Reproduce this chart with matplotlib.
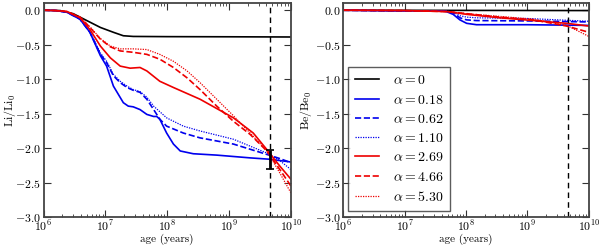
import numpy as np
import matplotlib
matplotlib.use("Agg")
import matplotlib.pyplot as plt

plt.rcParams['font.family'] = 'serif'
plt.rcParams['font.serif'] = ['cmr10', 'DejaVu Serif']
plt.rcParams['mathtext.fontset'] = 'cm'
plt.rcParams['axes.formatter.use_mathtext'] = True
plt.rcParams['axes.unicode_minus'] = True

# ---------------- data (log10 age, abundance) ----------------
labels = [r'$\alpha = 0$', r'$\alpha = 0.18$', r'$\alpha = 0.62$', r'$\alpha = 1.10$',
          r'$\alpha = 2.69$', r'$\alpha = 4.66$', r'$\alpha = 5.30$']

li_a0_x = [6.0, 6.27, 6.48, 6.70, 6.92, 7.13, 7.29, 7.45, 8.0, 9.0, 10.0]
li_a0_y = [0.0, -0.005, -0.05, -0.15, -0.25, -0.32, -0.37, -0.38, -0.383, -0.385, -0.388]

li_a018_x = [6.0, 6.2, 6.38, 6.59, 6.75, 6.92, 7.02, 7.13, 7.29, 7.37, 7.45, 7.56, 7.67, 7.78,
             7.83, 7.88, 7.99, 8.10, 8.21, 8.42, 8.80, 9.34, 9.66, 10.0]
li_a018_y = [0.0, -0.005, -0.03, -0.13, -0.32, -0.66, -0.81, -1.10, -1.34, -1.39, -1.40, -1.44,
             -1.51, -1.54, -1.54, -1.58, -1.78, -1.94, -2.04, -2.08, -2.10, -2.14, -2.16, -2.20]

li_a062_x = [6.0, 6.2, 6.38, 6.59, 6.75, 6.92, 7.02, 7.13, 7.24, 7.35, 7.45, 7.56, 7.67, 7.78,
             7.88, 7.99, 8.26, 8.53, 9.07, 9.61, 9.82, 10.0]
li_a062_y = [0.0, -0.005, -0.03, -0.13, -0.32, -0.64, -0.76, -0.95, -1.05, -1.12, -1.16, -1.19,
             -1.29, -1.44, -1.58, -1.68, -1.78, -1.85, -1.94, -2.09, -2.15, -2.21]

li_a110_x = [6.0, 6.2, 6.38, 6.59, 6.75, 6.92, 7.02, 7.13, 7.24, 7.35, 7.45, 7.56, 7.67, 7.78,
             7.99, 8.26, 8.53, 9.07, 9.61, 9.82, 10.0]
li_a110_y = [0.0, -0.005, -0.03, -0.13, -0.31, -0.62, -0.74, -0.93, -1.03, -1.10, -1.15, -1.18,
             -1.26, -1.39, -1.56, -1.68, -1.75, -1.87, -2.07, -2.18, -2.31]

li_a269_x = [6.0, 6.2, 6.38, 6.59, 6.75, 6.92, 7.08, 7.24, 7.40, 7.56, 7.67, 7.88, 8.10, 8.53,
             9.07, 9.39, 9.61, 9.82, 10.0]
li_a269_y = [0.0, -0.005, -0.02, -0.11, -0.28, -0.52, -0.69, -0.81, -0.84, -0.83, -0.88, -1.03,
             -1.12, -1.29, -1.56, -1.78, -2.02, -2.26, -2.45]

li_a466_x = [6.0, 6.2, 6.38, 6.59, 6.75, 6.92, 7.08, 7.24, 7.45, 7.67, 7.88, 8.10, 8.32, 8.53,
             8.80, 9.07, 9.34, 9.61, 9.82, 10.0]
li_a466_y = [0.0, -0.005, -0.02, -0.10, -0.25, -0.42, -0.53, -0.59, -0.61, -0.64, -0.71, -0.83,
             -0.98, -1.15, -1.39, -1.61, -1.80, -2.04, -2.31, -2.55]

li_a530_x = [6.0, 6.2, 6.38, 6.59, 6.75, 6.92, 7.08, 7.24, 7.45, 7.67, 7.88, 8.10, 8.32, 8.53,
             8.80, 9.07, 9.34, 9.61, 9.82, 10.0]
li_a530_y = [0.0, -0.005, -0.02, -0.10, -0.24, -0.41, -0.52, -0.56, -0.56, -0.57, -0.64, -0.74,
             -0.88, -1.05, -1.29, -1.53, -1.78, -2.04, -2.36, -2.65]

be_a0_x = [6.0, 10.0]
be_a0_y = [0.0, -0.005]

be_a018_x = [6.0, 6.9, 7.6, 7.68, 7.79, 7.90, 8.01, 8.17, 9.0, 10.0]
be_a018_y = [0.0, -0.01, -0.01, -0.02, -0.06, -0.14, -0.19, -0.21, -0.21, -0.22]

be_a062_x = [6.0, 6.9, 7.55, 7.68, 7.79, 7.90, 8.01, 8.17, 9.0, 10.0]
be_a062_y = [0.0, -0.01, -0.01, -0.015, -0.04, -0.11, -0.14, -0.15, -0.155, -0.17]

be_a110_x = [6.0, 6.9, 7.6, 7.70, 7.79, 7.90, 8.01, 8.17, 9.0, 10.0]
be_a110_y = [0.0, -0.01, -0.01, -0.015, -0.03, -0.08, -0.10, -0.11, -0.12, -0.16]

be_a269_x = [6.0, 7.0, 7.7, 8.01, 8.55, 9.10, 9.64, 10.0]
be_a269_y = [0.0, -0.005, -0.02, -0.06, -0.11, -0.15, -0.19, -0.23]

be_a466_x = [6.0, 7.0, 7.7, 8.01, 8.55, 9.10, 9.64, 10.0]
be_a466_y = [0.0, -0.005, -0.02, -0.05, -0.10, -0.14, -0.23, -0.32]

be_a530_x = [6.0, 7.0, 7.7, 8.01, 8.55, 9.10, 9.64, 10.0]
be_a530_y = [0.0, -0.005, -0.02, -0.05, -0.09, -0.13, -0.22, -0.38]

sun_age = 4.57e9
sun_li = -2.165
sun_li_err = 0.135

li_series = [(li_a0_x, li_a0_y), (li_a018_x, li_a018_y), (li_a062_x, li_a062_y),
             (li_a110_x, li_a110_y), (li_a269_x, li_a269_y), (li_a466_x, li_a466_y),
             (li_a530_x, li_a530_y)]
be_series = [(be_a0_x, be_a0_y), (be_a018_x, be_a018_y), (be_a062_x, be_a062_y),
             (be_a110_x, be_a110_y), (be_a269_x, be_a269_y), (be_a466_x, be_a466_y),
             (be_a530_x, be_a530_y)]

colors = ['k', '#0000ee', '#0000ee', '#0000ee', '#ee0000', '#ee0000', '#ee0000']
styles = ['-', '-', '--', ':', '-', '--', ':']

fig = plt.figure(figsize=(6.0, 2.46), dpi=100)
ax1 = fig.add_axes([0.0725, 0.117, 0.4125, 0.8695])
ax2 = fig.add_axes([0.572, 0.117, 0.4095, 0.8695])

for ax, series, ylab, ylx in [(ax1, li_series, r'$\mathrm{Li/Li_0}$', -0.105),
                              (ax2, be_series, r'$\mathrm{Be/Be_0}$', -0.12)]:
    for (xs, ys), c, ls, lab in zip(series, colors, styles, labels):
        if ls == ':':
            ax.plot(10 ** np.array(xs), ys, color=c, lw=0.9, dashes=(1, 1), label=lab)
        else:
            ax.plot(10 ** np.array(xs), ys, color=c, ls=ls, lw=1.2, label=lab)
    ax.axvline(sun_age, color='k', ls='--', lw=1.0, dashes=(4, 3))
    ax.set_xscale('log')
    ax.set_xlim(1e6, 1e10)
    ax.set_ylim(-3.0, 0.1)
    ax.set_yticks([0.0, -0.5, -1.0, -1.5, -2.0, -2.5, -3.0])
    ax.set_yticklabels(['$0.0$', '$-0.5$', '$-1.0$', '$-1.5$', '$-2.0$', '$-2.5$', '$-3.0$'])
    ax.set_xlabel('age (years)', fontsize=8)
    ax.xaxis.set_label_coords(0.5, -0.078)
    ax.set_ylabel(ylab, fontsize=8.5)
    ax.yaxis.set_label_coords(ylx, 0.5)
    ax.tick_params(which='both', direction='in', top=True, right=True, labelsize=8.5,
                   color='#333333')
    ax.tick_params(which='major', length=5, width=0.8, pad=2)
    ax.tick_params(axis='x', which='major', pad=1)
    ax.tick_params(which='minor', length=2.5, width=0.6)
    for sp in ax.spines.values():
        sp.set_linewidth(1.3)
        sp.set_color('#444444')

ax1.errorbar([sun_age], [sun_li], yerr=[sun_li_err], fmt='none', ecolor='k',
             elinewidth=2.0, capsize=3, capthick=1.2, zorder=5)

leg = ax2.legend(loc='lower left', fontsize=10, frameon=True, fancybox=False,
                 handlelength=1.7, handletextpad=1.0, labelspacing=0.45,
                 borderpad=0.5, borderaxespad=0.0, bbox_to_anchor=(0.02, 0.03))
leg.get_frame().set_edgecolor('#333333')
leg.get_frame().set_linewidth(1.0)

fig.savefig('out.png', dpi=100)
